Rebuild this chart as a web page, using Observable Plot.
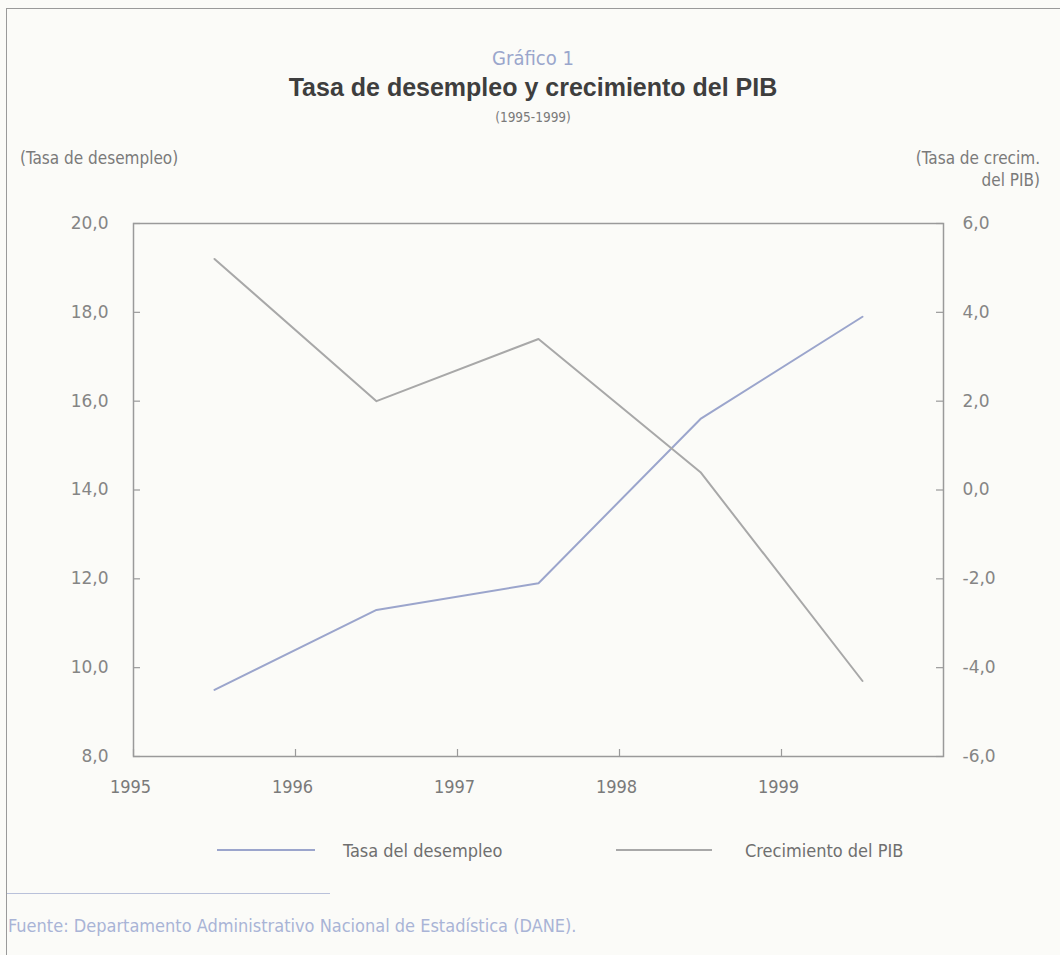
<!DOCTYPE html>
<html>
<head>
<meta charset="utf-8">
<script src="https://cdn.jsdelivr.net/npm/d3@7"></script>
<script src="https://cdn.jsdelivr.net/npm/@observablehq/plot@0.6"></script>
<style>
  html, body { margin: 0; padding: 0; background: #fbfbf8; }
  #page { position: relative; width: 1060px; height: 955px; overflow: hidden; background: #fbfbf8; }
  .t { position: absolute; white-space: nowrap; }
  .cond { font-family: "Liberation Sans Narrow", "DejaVu Sans Condensed", "Roboto Condensed", sans-serif; font-stretch: condensed; }
  #border { position: absolute; left: 6px; top: 8px; width: 1060px; height: 960px; border-left: 1.5px solid #9a9a9a; border-top: 1.5px solid #9a9a9a; }
  #chart { position: absolute; left: 0; top: 190px; }
  .leg { position: absolute; height: 0; border-top: 2px solid; }
</style>
</head>
<body>
<div id="page">
  <div id="border"></div>
  <div class="t cond" style="left:533px; top:58px; transform:translate(-50%,-50%); font-size:20px; color:#9aa6cc;">Gráfico 1</div>
  <div class="t" style="left:533px; top:87px; transform:translate(-50%,-50%); font-family:'Liberation Sans', Arial, sans-serif; font-weight:bold; font-size:25px; color:#3e3e3e;">Tasa de desempleo y crecimiento del PIB</div>
  <div class="t cond" style="left:533px; top:117px; transform:translate(-50%,-50%); font-size:13.5px; color:#7a7a7a;">(1995-1999)</div>
  <div class="t cond" style="left:20px; top:158px; transform:translate(0,-50%); font-size:17px; color:#7a7a7a;">(Tasa de desempleo)</div>
  <div class="t cond" style="right:20px; top:147px; text-align:right; font-size:17px; line-height:22px; color:#7a7a7a;">(Tasa de crecim.<br>del PIB)</div>
  <div id="chart"></div>
  <div class="leg" style="left:217px; width:98px; top:849px; border-color:#9ba5cc;"></div>
  <div class="t cond" style="left:343px; top:850px; transform:translate(0,-50%); font-size:18px; color:#6f6f6f;">Tasa del desempleo</div>
  <div class="leg" style="left:616px; width:96px; top:849px; border-color:#a8a8a8;"></div>
  <div class="t cond" style="left:745px; top:850px; transform:translate(0,-50%); font-size:18px; color:#6f6f6f;">Crecimiento del PIB</div>
  <div style="position:absolute; left:7px; top:893px; width:323px; height:0; border-top:1.5px solid #b9c1da;"></div>
  <div class="t cond" style="left:8px; top:925px; transform:translate(0,-50%); font-size:18px; color:#a9b4d6;">Fuente: Departamento Administrativo Nacional de Estadística (DANE).</div>
</div>
<script>
// Data
const years = [1995, 1996, 1997, 1998, 1999];
const desempleo = [9.5, 11.3, 11.9, 15.6, 17.9];   // left axis, %
const pib = [5.2, 2.0, 3.4, 0.4, -4.3];            // right axis, %
const xTicks = [1995, 1996, 1997, 1998, 1999];
const leftTicks = [8, 10, 12, 14, 16, 18, 20];
const rightTicks = [-6, -4, -2, 0, 2, 4, 6];

const rows = years.map((y, i) => ({year: y, desempleo: desempleo[i], pib: pib[i]}));

// Right axis (-6..6) mapped onto left axis (8..20)
const rightToLeft = v => v + 14;

const loc = d3.formatLocale({decimal: ",", thousands: ".", grouping: [3], currency: ["$", ""], minus: "-"});
const fmt = loc.format(".1f");

const W = 1060, H = 610, mT = 33, mB = 44, mL = 133, mR = 117;
const frameW = W - mL - mR, frameH = H - mT - mB, tick = 7;

const chart = Plot.plot({
  width: W,
  height: H,
  marginTop: mT,
  marginBottom: mB,
  marginLeft: mL,
  marginRight: mR,
  style: {background: "transparent", overflow: "visible"},
  x: {domain: [1995, 2000], axis: null},
  y: {domain: [8, 20], axis: null},
  marks: [
    // inward tick marks
    Plot.tickY(leftTicks, {y: d => d, insetRight: frameW - tick, stroke: "#9a9a9a", strokeWidth: 1.2}),
    Plot.tickY(leftTicks, {y: d => d, insetLeft: frameW - tick, stroke: "#9a9a9a", strokeWidth: 1.2}),
    Plot.tickX(xTicks, {x: d => d, insetTop: frameH - tick, stroke: "#9a9a9a", strokeWidth: 1.2}),
    Plot.frame({stroke: "#9a9a9a", strokeWidth: 1.5}),
    Plot.axisX({ticks: xTicks, tickFormat: d => String(d), tickSize: 0, tickPadding: 24, dx: -3, color: "#7a7a7a", fontSize: 18, fontFamily: "'Liberation Sans Narrow','DejaVu Sans Condensed',sans-serif", label: null}),
    Plot.axisY({anchor: "left", ticks: leftTicks, tickFormat: fmt, tickSize: 0, tickPadding: 25, color: "#858585", fontSize: 17, fontFamily: "'DejaVu Sans',sans-serif", label: null}),
    Plot.axisY({anchor: "right", ticks: rightTicks.map(rightToLeft), tickFormat: d => fmt(d - 14), tickSize: 0, tickPadding: 19, color: "#858585", fontSize: 17, fontFamily: "'DejaVu Sans',sans-serif", label: null}),
    Plot.line(rows, {x: d => d.year + 0.5, y: "desempleo", stroke: "#9ba5cc", strokeWidth: 2}),
    Plot.line(rows, {x: d => d.year + 0.5, y: d => rightToLeft(d.pib), stroke: "#a8a8a8", strokeWidth: 2})
  ]
});
document.getElementById("chart").appendChild(chart);
</script>
</body>
</html>
